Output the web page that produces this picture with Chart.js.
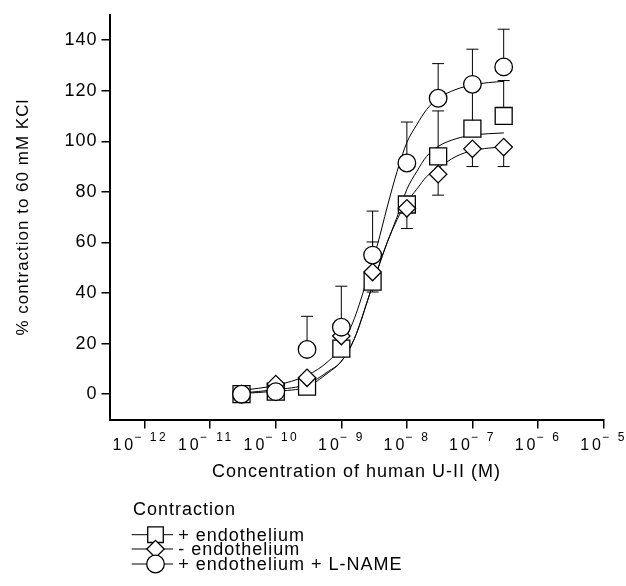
<!DOCTYPE html>
<html>
<head>
<meta charset="utf-8">
<script src="https://cdn.jsdelivr.net/npm/chart.js@4.4.1/dist/chart.umd.min.js"></script>
<style>
  html, body { margin: 0; padding: 0; background: #fff; }
</style>
</head>
<body>
<canvas id="doseChart" width="626" height="586"></canvas>
<script>
// concentrations of human U-II (M)
var concentrations = [3e-11, 1e-10, 3e-10, 1e-9, 3e-9, 1e-8, 3e-8, 1e-7, 3e-7];
var seriesLabels = ['+ endothelium', '- endothelium', '+ endothelium + L-NAME'];

// mean % contraction
var plusEndo  = [0, 1, 3, 18, 44.5, 75, 94, 105, 110];
var minusEndo = [0, 4, 6.5, 23, 48.3, 73.5, 87, 97, 97.7];
var plusLName = [0, 1, 17.7, 26.5, 55, 91.4, 117, 122.5, 129.4];

// error bar ends (null = none shown)
var plusEndoHi  = [null, null, null, null, null, null, 112, 120, 124];
var plusEndoLo  = [null, null, null, null, 40.4, null, null, null, null];
var minusEndoHi = [null, null, null, null, 60.2, null, null, null, null];
var minusEndoLo = [null, null, null, null, null, 65.5, 78.7, 90, 90];
var plusLNameHi = [null, null, 30.8, 42.7, 72.4, 107.6, 130.7, 136.4, 144.3];
var plusLNameLo = [null, null, null, null, null, null, null, null, null];

// fitted curves at these log10 concentrations
var curveLogX     = [-10.52, -10, -9.52, -9.2, -9.0, -8.8, -8.6, -8.45, -8.3, -8.15, -8.0, -7.85, -7.7, -7.52, -7.25, -7.0, -6.75, -6.52];
var plusEndoFit   = [0.3, 1.2, 3, 8.5, 13, 22, 37, 49, 60, 70, 81, 88, 94, 98, 101, 102.4, 103, 103.3];
var minusEndoFit  = [0.5, 1.8, 4, 9, 13, 22, 37, 49, 60, 69, 76, 81, 86, 89.5, 94, 96.3, 97.3, 97.8];
var plusLNameFit  = [1.5, 3.5, 7.5, 13, 19, 30, 46, 59, 74, 88, 99.5, 106.5, 112.5, 117, 120.5, 122.3, 123.2, 123.7];

var xTickExp = [-12, -11, -10, -9, -8, -7, -6, -5];
var yTicks = [0, 20, 40, 60, 80, 100, 120, 140];

var FONT = '"Liberation Sans", Arial, Helvetica, sans-serif';

function pts(ys) {
    return concentrations.map(function (c, i) { return {x: c, y: ys[i]}; });
}
function curve(ys) {
    return curveLogX.map(function (l, i) { return {x: Math.pow(10, l), y: ys[i]}; });
}

var errorBars = [
    {hi: plusEndoHi, lo: plusEndoLo, mean: plusEndo},
    {hi: minusEndoHi, lo: minusEndoLo, mean: minusEndo},
    {hi: plusLNameHi, lo: plusLNameLo, mean: plusLName}
];

var spacingPlugin = {
    id: 'spacing',
    beforeDraw: function (chart) { chart.ctx.letterSpacing = '1px'; },
    beforeDatasetsDraw: function (chart) { chart.ctx.letterSpacing = '0px'; }
};

var errorBarPlugin = {
    id: 'errorBars',
    beforeDatasetsDraw: function (chart) {
        var ctx = chart.ctx, xs = chart.scales.x, ys = chart.scales.y;
        ctx.save();
        ctx.strokeStyle = '#000';
        ctx.lineWidth = 1;
        errorBars.forEach(function (eb) {
            concentrations.forEach(function (c, i) {
                [eb.hi[i], eb.lo[i]].forEach(function (end) {
                    if (end === null) return;
                    var px = xs.getPixelForValue(c);
                    var y0 = ys.getPixelForValue(eb.mean[i]);
                    var y1 = ys.getPixelForValue(end);
                    ctx.beginPath();
                    ctx.moveTo(px, y0);
                    ctx.lineTo(px, y1);
                    ctx.moveTo(px - 6, y1);
                    ctx.lineTo(px + 6, y1);
                    ctx.stroke();
                });
            });
        });
        ctx.restore();
    }
};

// "10" with a raised exponent under each decade tick
var xLabelPlugin = {
    id: 'xLabels',
    afterDraw: function (chart) {
        var ctx = chart.ctx, xs = chart.scales.x;
        ctx.save();
        ctx.fillStyle = '#000';
        ctx.textBaseline = 'alphabetic';
        xTickExp.forEach(function (e) {
            var px = xs.getPixelForValue(Math.pow(10, e));
            var digits = String(Math.abs(e));
            var minusLeft = digits.length > 1 ? px - 10 : px - 1;
            ctx.font = '16px ' + FONT;
            ctx.letterSpacing = '3px';
            ctx.textAlign = 'right';
            ctx.fillText('10', minusLeft + 1.5, 450);
            ctx.font = '12px ' + FONT;
            ctx.letterSpacing = '0px';
            ctx.textAlign = 'left';
            ctx.fillText('\u2212', minusLeft - 0.5, 440.5);
            ctx.letterSpacing = '2.5px';
            ctx.textAlign = 'right';
            ctx.fillText(digits, px + 23.5, 440.5);
        });
        ctx.restore();
    }
};

var legendPlugin = {
    id: 'figLegend',
    afterDraw: function (chart) {
        var ctx = chart.ctx;
        var rows = [534.7, 549, 564];
        ctx.save();
        ctx.fillStyle = '#000';
        ctx.letterSpacing = '1px';
        ctx.font = '18px ' + FONT;
        ctx.textAlign = 'left';
        ctx.textBaseline = 'middle';
        ctx.fillText('Contraction', 133, 510.5);
        for (var i = 0; i < 3; i++) {
            var ds = chart.data.datasets[i];
            var y = rows[i];
            ctx.strokeStyle = '#000';
            ctx.lineWidth = 1;
            ctx.beginPath();
            ctx.moveTo(131.7, y);
            ctx.lineTo(173, y);
            ctx.stroke();
            ctx.fillStyle = '#fff';
            ctx.lineWidth = 1.3;
            var r = ds.pointStyle === 'rect' ? 11 : ds.pointRadius;
            Chart.helpers.drawPoint(ctx, {pointStyle: ds.pointStyle, radius: r, borderWidth: 1.3, rotation: 0}, 155.5, y);
            ctx.fillStyle = '#000';
            ctx.fillText(ds.label, 178.3, y + 1);
        }
        ctx.restore();
    }
};

function markerSet(label, data, style, radius, order) {
    return {
        label: label,
        data: pts(data),
        showLine: false,
        pointStyle: style,
        pointRadius: radius,
        pointBackgroundColor: '#fff',
        pointBorderColor: '#000',
        pointBorderWidth: 1.3,
        order: order
    };
}
function fitSet(label, data) {
    return {
        label: label,
        data: curve(data),
        borderColor: '#000',
        borderWidth: 1,
        pointRadius: 0,
        fill: false,
        cubicInterpolationMode: 'monotone',
        order: 5
    };
}

var ctx = document.getElementById('doseChart').getContext('2d');
var myChart = new Chart(ctx, {
    type: 'line',
    data: {
        datasets: [
            markerSet(seriesLabels[0], plusEndo, 'rect', 12, 2),
            markerSet(seriesLabels[1], minusEndo, 'rectRot', 8.7, 1),
            markerSet(seriesLabels[2], plusLName, 'circle', 8.8, 0),
            fitSet('fit ' + seriesLabels[0], plusEndoFit),
            fitSet('fit ' + seriesLabels[1], minusEndoFit),
            fitSet('fit ' + seriesLabels[2], plusLNameFit)
        ]
    },
    options: {
        responsive: false,
        animation: false,
        devicePixelRatio: 1,
        layout: { padding: { top: 14.7, right: 22.5, bottom: 0, left: 0 } },
        plugins: { legend: { display: false }, tooltip: { enabled: false } },
        scales: {
            x: {
                type: 'logarithmic',
                min: Math.pow(10, -12.537),
                max: 1e-5,
                afterBuildTicks: function (s) {
                    s.ticks = xTickExp.map(function (e) { return {value: Math.pow(10, e)}; });
                },
                afterFit: function (s) { s.height = 166.5; },
                ticks: { autoSkip: false, maxRotation: 0, callback: function () { return ''; } },
                grid: { drawOnChartArea: false, drawTicks: true, tickLength: 9, color: '#000', lineWidth: 1.5 },
                border: { display: true, color: '#000', width: 2 },
                title: {
                    display: true,
                    text: 'Concentration of human U-II (M)',
                    color: '#000',
                    font: { family: FONT, size: 18 },
                    padding: { top: 0, bottom: 103.5 }
                }
            },
            y: {
                type: 'linear',
                min: -10,
                max: 150,
                afterBuildTicks: function (s) {
                    s.ticks = yTicks.map(function (v) { return {value: v}; });
                },
                afterFit: function (s) { s.width = 109.5; },
                ticks: { color: '#000', padding: 4, font: { family: FONT, size: 18 } },
                grid: { drawOnChartArea: false, drawTicks: true, tickLength: 8, color: '#000', lineWidth: 1.5 },
                border: { display: true, color: '#000', width: 2 },
                title: {
                    display: true,
                    text: '% contraction to 60 mM KCl',
                    color: '#000',
                    font: { family: FONT, size: 17 },
                    padding: { top: 13.3, bottom: 0 }
                }
            }
        }
    },
    plugins: [spacingPlugin, errorBarPlugin, xLabelPlugin, legendPlugin]
});
</script>
</body>
</html>
